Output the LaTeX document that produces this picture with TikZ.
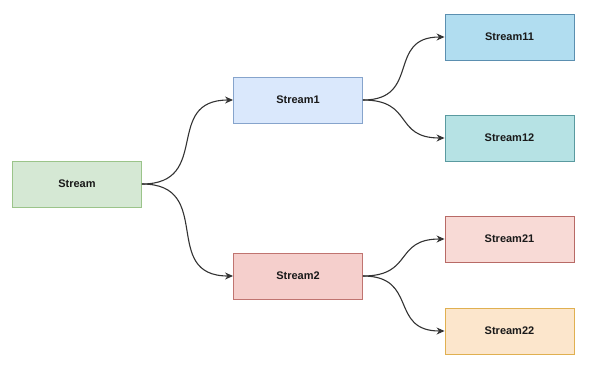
\documentclass[tikz,border=0pt]{standalone}
\usepackage{fontspec}
\setmainfont{Liberation Sans}
\usetikzlibrary{arrows.meta}
\definecolor{gfill}{HTML}{D5E8D4}\definecolor{gline}{HTML}{9BC48A}
\definecolor{bfill}{HTML}{DAE8FC}\definecolor{bline}{HTML}{86A4CC}
\definecolor{b2fill}{HTML}{B1DDF0}\definecolor{b2line}{HTML}{5B8FB0}
\definecolor{tfill}{HTML}{B6E2E4}\definecolor{tline}{HTML}{5A9AA0}
\definecolor{rfill}{HTML}{F5CFCC}\definecolor{rline}{HTML}{C07470}
\definecolor{r2fill}{HTML}{F8DAD6}\definecolor{r2line}{HTML}{B86A66}
\definecolor{ofill}{HTML}{FCE6CC}\definecolor{oline}{HTML}{E0B050}
\definecolor{edge}{HTML}{333333}
\tikzset{
  box/.style={rectangle, draw, line width=0.9pt, minimum width=129pt, minimum height=46pt,
    inner sep=0pt, font=\fontsize{11}{12}\selectfont\bfseries, text=black!90},
  conn/.style={draw=edge, line width=1.1pt, -{Stealth[length=8pt,width=7pt]}, out=0, in=180, looseness=1.45},
}
\begin{document}
\begin{tikzpicture}[x=1pt,y=-1pt]
\useasboundingbox (0,0) rectangle (590,368);
\node[box, fill=gfill, draw=gline] (s) at (77,184) {Stream};
\node[box, fill=bfill, draw=bline] (s1) at (298,100) {Stream1};
\node[box, fill=rfill, draw=rline] (s2) at (298,276) {Stream2};
\node[box, fill=b2fill, draw=b2line] (s11) at (509.5,37) {Stream11};
\node[box, fill=tfill, draw=tline] (s12) at (509.5,138) {Stream12};
\node[box, fill=r2fill, draw=r2line] (s21) at (509.5,239) {Stream21};
\node[box, fill=ofill, draw=oline] (s22) at (509.5,331) {Stream22};
\draw[conn] (s.east) to (s1.west);
\draw[conn] (s.east) to (s2.west);
\draw[conn] (s1.east) to (s11.west);
\draw[conn] (s1.east) to (s12.west);
\draw[conn] (s2.east) to (s21.west);
\draw[conn] (s2.east) to (s22.west);
\end{tikzpicture}
\end{document}
